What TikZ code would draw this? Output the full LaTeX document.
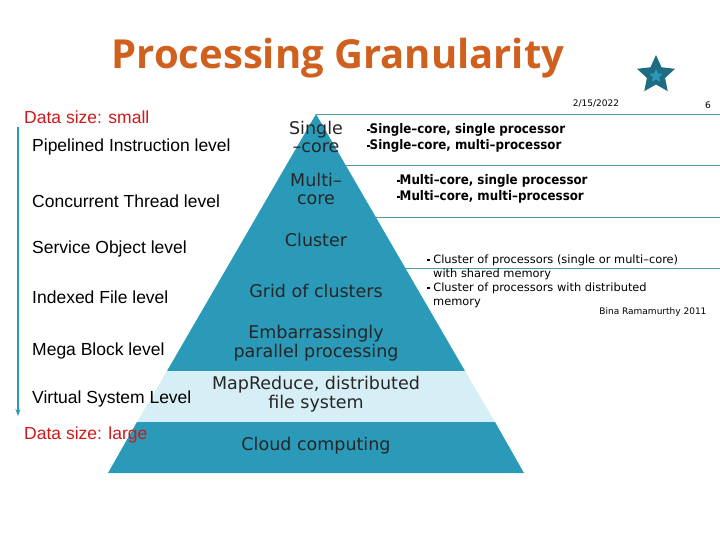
\documentclass[tikz,border=0pt]{standalone}
\usepackage{fontspec}
\setmainfont{Liberation Sans}
\newfontfamily\vf{DejaVu Sans}
\newfontfamily\vfc{DejaVu Sans Condensed}
\newfontfamily\tf{Open Sans}
\usetikzlibrary{shapes.geometric,arrows.meta}
\definecolor{teal}{HTML}{2A9AB8}
\definecolor{lteal}{HTML}{D6EEF5}
\definecolor{org}{HTML}{D0601E}
\definecolor{red}{HTML}{D01818}
\definecolor{lnc}{HTML}{4A9AAA}
\newcommand{\sq}{\raisebox{2.5pt}{\rule{2.5pt}{2.5pt}}}
\begin{document}
\begin{tikzpicture}[x=1pt,y=-1pt,
  lbl/.style={anchor=west,font=\fontsize{17.5}{19}\selectfont,inner sep=0},
  red/.style={lbl,text=red},
  pyr/.style={font=\vf\fontsize{17.5}{20}\selectfont,align=center,text=black!85,inner sep=0},
  bul/.style={anchor=west,font=\vfc\bfseries\fontsize{13.2}{16}\selectfont,align=left,inner sep=0},
  thin/.style={anchor=north west,font=\vf\fontsize{11.4}{14}\selectfont,align=left,inner sep=0},
  hl/.style={draw=lnc,line width=0.8pt}]
\useasboundingbox (0,0) rectangle (720,540);
% pyramid
\fill[teal] (316,114) -- (465,371) -- (167,371) -- cycle;
\fill[lteal] (167,371) -- (465,371) -- (495,422) -- (137,422) -- cycle;
\fill[teal] (137,422) -- (495,422) -- (524,473) -- (108,473) -- cycle;
\coordinate (a) at (316,114);
\coordinate (r1) at (720,114);
\draw[hl] (a) -- (r1);
\draw[hl] (346,165) -- (720,165);
\draw[hl] (376,217) -- (720,217);
\draw[hl] (405,268) -- (720,268);
% title
\node[font=\tf\bfseries\fontsize{40}{42}\selectfont,text=org] (title) at (338,58) {Processing Granularity};
\node[star,star points=5,star point ratio=2.1,fill=teal!70!black,minimum size=40pt,inner sep=0] (st) at (656,75) {};
\node[star,star points=5,star point ratio=2.1,fill=teal,minimum size=14pt,inner sep=0] at (656,76) {};
\node[font=\vf\fontsize{9}{10}\selectfont] (date) at (596,104) {2/15/2022};
\node[font=\vf\fontsize{9}{10}\selectfont] (pg) at (708,105) {6};
% left labels
\node[red] (ds) at (24,117) {Data size: small};
\node[red] (dl) at (24,435) {Data size: large};
\node[lbl] (l1) at (32,147) {Pipelined Instruction level};
\node[lbl] (l2) at (32,201) {Concurrent Thread level};
\node[lbl] (l3) at (32,249) {Service Object level};
\node[lbl] (l4) at (32,297) {Indexed File level};
\node[lbl] (l5) at (32,351) {Mega Block level};
\node[lbl] (l6) at (32,399) {Virtual System Level};
\coordinate (at) at (18,127);
\coordinate (ab) at (18,416);
\draw[teal,line width=1.3pt,-{Stealth[length=7pt,width=5pt]}] (at) -- (ab);
% pyramid texts
\node[pyr] (p1) at (316,137) {Single\\[-2pt]–core};
\node[pyr] (p2) at (316,189) {Multi–\\[-2pt]core};
\node[pyr] (p3) at (316,240) {Cluster};
\node[pyr] (p4) at (316,291) {Grid of clusters};
\node[pyr] (p5) at (316,343) {Embarrassingly\\[-1pt]parallel processing};
\node[pyr] (p6) at (316,394) {MapReduce, distributed\\[-1pt]file system};
\node[pyr] (p7) at (316,446) {Cloud computing};
% bullets
\node[bul] (b1) at (367,138) {\sq Single–core, single processor\\\sq Single–core, multi–processor};
\node[bul] (b2) at (397,189) {\sq Multi–core, single processor\\\sq Multi–core, multi–processor};
\node[thin] (b3) at (427,255) {\sq\ Cluster of processors (single or multi–core)\\\hspace*{6pt}with shared memory\\\sq\ Cluster of processors with distributed\\\hspace*{6pt}memory};
\node[font=\vf\fontsize{9}{10}\selectfont,anchor=east] (bina) at (710,312) {Bina Ramamurthy 2011};
\end{tikzpicture}
\end{document}
